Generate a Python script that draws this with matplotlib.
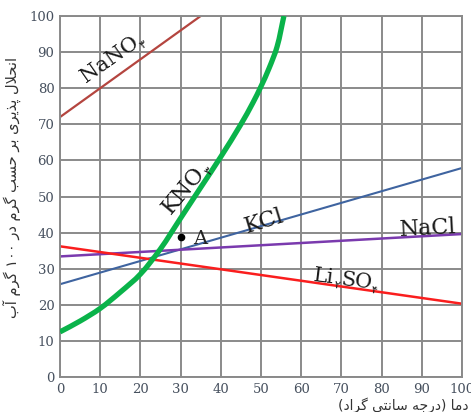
import numpy as np
import matplotlib
matplotlib.use("Agg")
import matplotlib.pyplot as plt
import matplotlib.transforms as mtransforms
from matplotlib.path import Path
from matplotlib.patches import PathPatch

# ---- data -------------------------------------------------------------
temp_ticks = [0, 10, 20, 30, 40, 50, 60, 70, 80, 90, 100]
sol_ticks = [0, 10, 20, 30, 40, 50, 60, 70, 80, 90, 100]

nano3_t = [0, 35]
nano3_s = [72, 100]

kno3_t = [0, 5, 10, 15, 20, 25, 30, 35, 40, 45, 48, 50, 52, 54, 55.7]
kno3_s = [12.5, 15.5, 19, 23.5, 28.5, 35.5, 44, 52.5, 61, 70, 76, 80.5, 85.5, 91.5, 100]

kcl_t = [0, 100]
kcl_s = [25.7, 57.9]

nacl_t = [0, 100]
nacl_s = [33.4, 39.6]

li2so4_t = [0, 100]
li2so4_s = [36.2, 20.3]

point_a = (30, 38.8)

y_label = "انحلال پذیری بر حسب گرم در ۱۰۰ گرم آب"
x_label = "دما (درجه سانتی گراد)"

# ---- minimal Persian shaping (presentation forms, visual order) --------
FORMS = {  # isolated, final, initial, medial
    'ا': (0xFE8D, 0xFE8E, None, None),
    'آ': (0xFE81, 0xFE82, None, None),
    'ب': (0xFE8F, 0xFE90, 0xFE91, 0xFE92),
    'پ': (0xFB56, 0xFB57, 0xFB58, 0xFB59),
    'ت': (0xFE95, 0xFE96, 0xFE97, 0xFE98),
    'ج': (0xFE9D, 0xFE9E, 0xFE9F, 0xFEA0),
    'ح': (0xFEA1, 0xFEA2, 0xFEA3, 0xFEA4),
    'د': (0xFEA9, 0xFEAA, None, None),
    'ذ': (0xFEAB, 0xFEAC, None, None),
    'ر': (0xFEAD, 0xFEAE, None, None),
    'س': (0xFEB1, 0xFEB2, 0xFEB3, 0xFEB4),
    'گ': (0xFB92, 0xFB93, 0xFB94, 0xFB95),
    'ل': (0xFEDD, 0xFEDE, 0xFEDF, 0xFEE0),
    'م': (0xFEE1, 0xFEE2, 0xFEE3, 0xFEE4),
    'ن': (0xFEE5, 0xFEE6, 0xFEE7, 0xFEE8),
    'ه': (0xFEE9, 0xFEEA, 0xFEEB, 0xFEEC),
    'ی': (0xFBFC, 0xFBFD, 0xFBFE, 0xFBFF),
}


def joins_next(ch):
    return ch in FORMS and FORMS[ch][2] is not None


def shape(text):
    out = []
    i = 0
    n = len(text)
    while i < n:
        ch = text[i]
        if ch not in FORMS:
            out.append(ch)
            i += 1
            continue
        prev = text[i - 1] if i > 0 else ''
        joined_prev = joins_next(prev)
        # lam-alef ligature
        if ch == 'ل' and i + 1 < n and text[i + 1] == 'ا':
            out.append(chr(0xFEFC if joined_prev else 0xFEFB))
            i += 2
            continue
        nxt = text[i + 1] if i + 1 < n else ''
        joined_next = joins_next(ch) and nxt in FORMS
        iso, fin, ini, med = FORMS[ch]
        if joined_prev and joined_next:
            code = med
        elif joined_prev:
            code = fin
        elif joined_next:
            code = ini
        else:
            code = iso
        out.append(chr(code))
        i += 1
    shaped = ''.join(out)
    # visual order: reverse, mirror brackets, keep digit runs left-to-right
    rev = shaped[::-1].translate(str.maketrans('()', ')('))
    res = []
    run = ''
    for c in rev:
        if c.isdigit():
            run += c
        else:
            if run:
                res.append(run[::-1])
                run = ''
            res.append(c)
    if run:
        res.append(run[::-1])
    return ''.join(res)


def smooth_path(xs, ys):
    """Smooth curve through the points: cubic Beziers with unit tangents
    scaled by each segment's length (no overshoot on uneven spacing)."""
    pts = np.column_stack([xs, ys]).astype(float)
    n = len(pts)
    tang = np.zeros_like(pts)
    for i in range(n):
        a = pts[max(i - 1, 0)]
        b = pts[min(i + 1, n - 1)]
        d = b - a
        tang[i] = d / np.hypot(*d)
    verts = [pts[0]]
    codes = [Path.MOVETO]
    for i in range(n - 1):
        p1, p2 = pts[i], pts[i + 1]
        seg = np.hypot(*(p2 - p1)) / 3.0
        verts += [p1 + tang[i] * seg, p2 - tang[i + 1] * seg, p2]
        codes += [Path.CURVE4] * 3
    return Path(verts, codes)


# ---- figure ----------------------------------------------------------
fig = plt.figure(figsize=(4.71, 4.12), dpi=100)
ax = fig.add_axes([60 / 471, 35 / 412, 402 / 471, 361 / 412])
ax.set_xlim(0, 100)
ax.set_ylim(0, 100)
ax.set_xticks(temp_ticks)
ax.set_yticks(sol_ticks)

grid_col = '#8a8a8a'
ax.grid(True, color=grid_col, linewidth=1.4)
for sp in ax.spines.values():
    sp.set_color(grid_col)
    sp.set_linewidth(1.4)
ax.tick_params(length=0, pad=4, labelsize=9.5, labelcolor='#46505e')
for lab in ax.get_xticklabels() + ax.get_yticklabels():
    lab.set_family('DejaVu Serif')
ax.set_axisbelow(True)

ax.plot(nano3_t, nano3_s, color='#b4453f', lw=1.6, solid_capstyle='butt')
ax.plot(kcl_t, kcl_s, color='#3f64a0', lw=1.5)
ax.plot(nacl_t, nacl_s, color='#7a3aae', lw=1.8)
ax.plot(li2so4_t, li2so4_s, color='#fa1e1e', lw=1.8)
ax.add_patch(PathPatch(smooth_path(kno3_t, kno3_s), facecolor='none',
                       edgecolor='#0ab34a', lw=3.8, capstyle='butt', zorder=3))
ax.plot(*point_a, 'o', color='black', ms=4.5, zorder=4)
ax.text(point_a[0] + 3, point_a[1] - 0.5, 'A', fontsize=14, family='DejaVu Serif',
        va='center', ha='left', color='#222222')


def formula(parts, x, y, rot, size=16):
    """Draw a formula such as [('NaNO',0),('۳',1)] with subscripted pieces."""
    fig.canvas.draw()
    renderer = fig.canvas.get_renderer()
    base = ax.transData.transform((x, y))
    th = np.deg2rad(rot)
    ux, uy = np.cos(th), np.sin(th)
    px, py = np.sin(th), -np.cos(th)
    offset = 0.0
    for txt, sub in parts:
        fs = size * 0.55 if sub else size
        fam = ['DejaVu Sans'] if sub else ['DejaVu Serif']
        drop = size * 0.22 * 100 / 72 if sub else 0.0
        dx = base[0] + ux * offset + px * drop
        dy = base[1] + uy * offset + py * drop
        t = fig.text(0, 0, txt, fontsize=fs, family=fam, rotation=rot,
                     rotation_mode='anchor', ha='left', va='baseline',
                     transform=mtransforms.IdentityTransform(), color='#1a1a1a')
        t.set_position((dx, dy))
        probe = fig.text(0, 0, txt, fontsize=fs, family=fam)
        w = probe.get_window_extent(renderer).width
        probe.remove()
        offset += w


formula([('NaNO', 0), ('۳', 1)], 6.5, 81.5, 35, size=15)
formula([('KNO', 0), ('۳', 1)], 27.5, 45.0, 50)
formula([('KCl', 0)], 46.5, 40.0, 17)
formula([('NaCl', 0)], 84.5, 39.0, 3)
formula([('Li', 0), ('۲', 1), ('SO', 0), ('۴', 1)], 63.0, 26.5, -7, size=15)

fig.text(12 / 471, 1 - 187 / 412, shape(y_label), rotation=90, ha='center',
         va='center', fontsize=10.5, family='DejaVu Sans', color='#333333')
fig.text(469 / 471, 1 - 405 / 412, shape(x_label), ha='right', va='center',
         fontsize=10, family='DejaVu Sans', color='#333333')

fig.savefig('out.png', dpi=100)
